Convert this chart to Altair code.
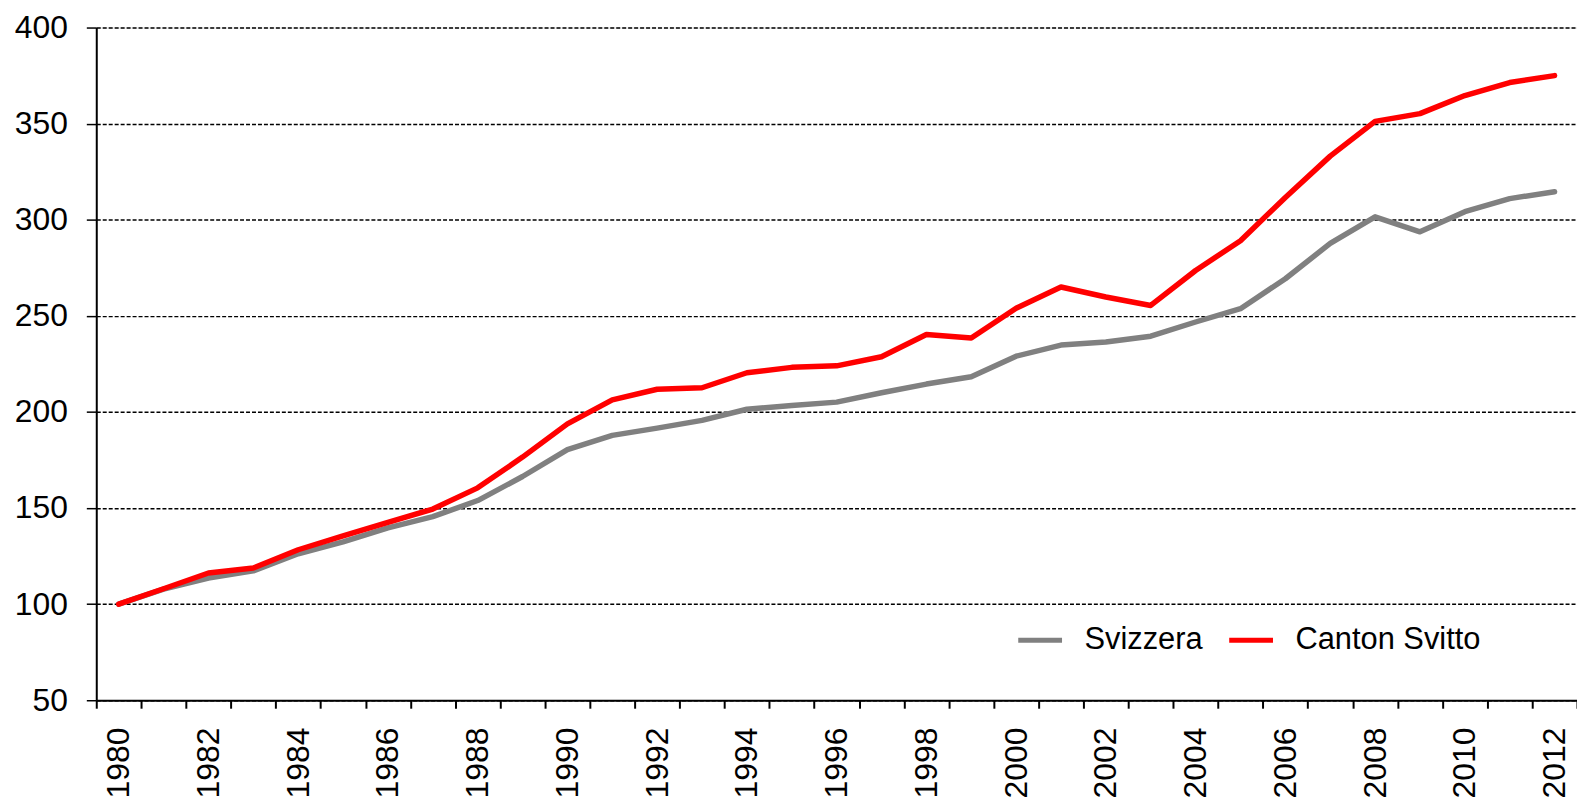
import altair as alt
import pandas as pd

years = list(range(1980, 2013))
svizzera = [100, 107.8, 113.6, 117.3, 126.2, 132.4, 139.7, 145.5, 153.9, 166.4,
            180.4, 187.8, 191.6, 195.6, 201.4, 203.3, 205.1, 210.0, 214.5, 218.3,
            229.0, 234.8, 236.4, 239.4, 246.8, 253.7, 269.3, 287.7, 301.5, 293.7,
            304.2, 311.0, 314.6]
svitto = [100, 108.0, 116.2, 118.8, 128.3, 135.5, 142.5, 149.5, 160.5, 176.5,
          193.8, 206.3, 211.8, 212.6, 220.4, 223.2, 224.0, 228.7, 240.3, 238.5,
          254.0, 265.0, 259.8, 255.4, 273.6, 289.1, 311.6, 333.1, 351.2, 355.2,
          364.6, 371.4, 375.0]
series_names = ["Svizzera", "Canton Svitto"]
series_colors = ["#808080", "#FF0000"]
y_ticks = [50, 100, 150, 200, 250, 300, 350, 400]

rows = []
for name, vals in zip(series_names, [svizzera, svitto]):
    for yr, v in zip(years, vals):
        rows.append({"year": yr, "value": v, "serie": name})
df = pd.DataFrame(rows)

FONT = "Liberation Sans"

chart = alt.Chart(df).mark_line(strokeWidth=5.5, strokeCap="round", strokeJoin="round").encode(
    x=alt.X("year:O",
            scale=alt.Scale(type="band", paddingInner=0, paddingOuter=0),
            axis=alt.Axis(title=None, tickBand="extent", tickSize=8, tickWidth=2,
                          tickColor="black", domainColor="black", domainWidth=2,
                          labelAngle=270, labelAlign="right", labelBaseline="middle",
                          labelPadding=19, labelFontSize=32, labelColor="black",
                          labelFont=FONT, labelOverlap=False,
                          labelExpr="datum.value % 2 == 0 ? datum.label : ''")),
    y=alt.Y("value:Q",
            scale=alt.Scale(domain=[50, 400], nice=False, zero=False),
            axis=alt.Axis(title=None, values=y_ticks, tickSize=10, tickWidth=1.5,
                          tickColor="black", domainColor="black", domainWidth=2,
                          labelPadding=19, labelFontSize=32, labelColor="black",
                          labelFont=FONT,
                          grid=True, gridColor="black", gridDash=[4, 2], gridWidth=1.5)),
    color=alt.Color("serie:N",
                    scale=alt.Scale(domain=series_names, range=series_colors),
                    legend=alt.Legend(title=None, orient="none", direction="horizontal",
                                      legendX=924, legendY=591,
                                      symbolType="stroke", symbolSize=1936,
                                      symbolStrokeWidth=5, labelFontSize=31,
                                      labelFont=FONT, labelColor="black",
                                      labelOffset=20, columnPadding=16, padding=0,
                                      labelLimit=400)),
).properties(
    width=1488,
    height=676,
    autosize=alt.AutoSizeParams(type="none"),
    padding={"left": 88.7, "top": 17.7, "right": 0, "bottom": 100},
).configure_view(stroke=None).configure(font=FONT)

chart.save("out.html", embed_options={"renderer": "svg", "actions": False})
